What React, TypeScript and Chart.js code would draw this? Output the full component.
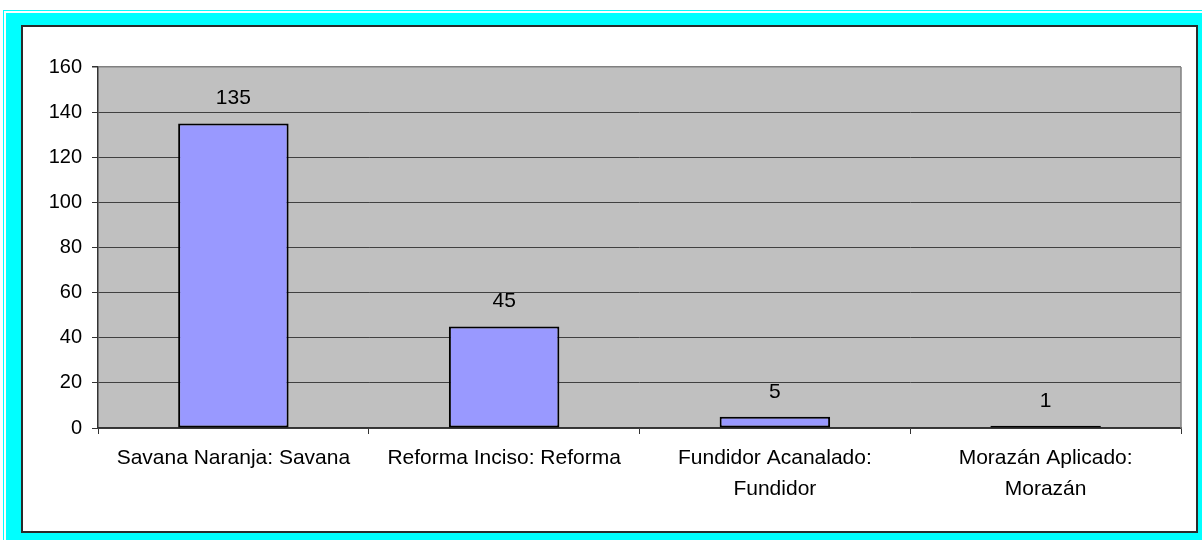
import React, { useEffect, useRef } from "react";
import { Chart, registerables } from "chart.js";

Chart.register(...registerables);

const categories: string[][] = [
  ["Savana Naranja: Savana"],
  ["Reforma Inciso: Reforma"],
  ["Fundidor Acanalado:", "Fundidor"],
  ["Morazán Aplicado:", "Morazán"],
];
const values: number[] = [135, 45, 5, 1];
const yMin = 0;
const yMax = 160;
const yStep = 20;

const FONT = '"Liberation Sans", Arial, sans-serif';

const plotBg = {
  id: "plotBg",
  beforeDraw(chart: any) {
    const { ctx, chartArea } = chart;
    ctx.save();
    ctx.fillStyle = "#C0C0C0";
    ctx.fillRect(chartArea.left, chartArea.top, chartArea.right - chartArea.left, chartArea.bottom - chartArea.top);
    ctx.restore();
  },
  afterDatasetsDraw(chart: any) {
    const { ctx, chartArea } = chart;
    ctx.save();
    ctx.strokeStyle = "#808080";
    ctx.lineWidth = 1.5;
    ctx.beginPath();
    ctx.moveTo(chartArea.right, chartArea.top);
    ctx.lineTo(chartArea.right, chartArea.bottom);
    ctx.stroke();
    ctx.restore();
  },
};

const valueLabels = {
  id: "valueLabels",
  afterDatasetsDraw(chart: any) {
    const { ctx } = chart;
    const meta = chart.getDatasetMeta(0);
    ctx.save();
    ctx.fillStyle = "#000";
    ctx.font = `21px ${FONT}`;
    ctx.textAlign = "center";
    ctx.textBaseline = "alphabetic";
    meta.data.forEach((el: any, i: number) => {
      ctx.fillText(String(values[i]), el.x, el.y - 19);
    });
    ctx.restore();
  },
};

export default function App() {
  const ref = useRef<HTMLCanvasElement | null>(null);

  useEffect(() => {
    if (!ref.current) return;
    const chart = new Chart(ref.current, {
      type: "bar",
      data: {
        labels: categories,
        datasets: [
          {
            data: values,
            backgroundColor: "#9999FF",
            borderColor: "#000000",
            borderWidth: 2,
            borderSkipped: false,
            categoryPercentage: 1,
            barPercentage: 0.408,
          },
        ],
      },
      options: {
        responsive: false,
        animation: false,
        devicePixelRatio: 1,
        layout: { padding: { top: 40, right: 16, left: 0, bottom: 0 } },
        plugins: {
          legend: { display: false },
          tooltip: { enabled: false },
          title: { display: false },
        },
        scales: {
          x: {
            afterFit: (scale: any) => {
              scale.height = 103;
            },
            grid: {
              offset: true,
              drawOnChartArea: false,
              drawTicks: true,
              tickLength: 6,
              tickColor: "#333",
            },
            border: { color: "#333", width: 1.5 },
            ticks: {
              autoSkip: false,
              maxRotation: 0,
              minRotation: 0,
              padding: 9,
              color: "#000",
              font: { family: FONT, size: 21, lineHeight: 1.46 },
            },
          },
          y: {
            min: yMin,
            max: yMax,
            afterFit: (scale: any) => {
              scale.width = 75;
            },
            grid: {
              color: (c: any) => (c.tick && c.tick.value === yMax ? "#808080" : "#404040"),
              lineWidth: (c: any) => (c.tick && c.tick.value === yMax ? 1.5 : 1),
              tickLength: 6,
              tickColor: "#333",
            },
            border: { color: "#333", width: 1.5 },
            ticks: {
              stepSize: yStep,
              padding: 10,
              color: "#000",
              font: { family: FONT, size: 20 },
            },
          },
        },
      },
      plugins: [plotBg, valueLabels],
    });
    return () => chart.destroy();
  }, []);

  return (
    <div
      style={{
        position: "fixed",
        left: 0,
        top: 0,
        width: 1202,
        height: 540,
        background: "#fff",
        overflow: "hidden",
      }}
    >
      <div
        style={{
          position: "absolute",
          left: 3,
          top: 10,
          width: 1400,
          height: 800,
          border: "1.5px solid #00FFFF",
        }}
      />
      <div
        style={{
          position: "absolute",
          left: 6,
          top: 13,
          width: 1400,
          height: 800,
          background: "#00FFFF",
        }}
      />
      <div
        style={{
          position: "absolute",
          left: 21,
          top: 25,
          width: 1177,
          height: 508,
          boxSizing: "border-box",
          border: "2px solid #2a2a2a",
          background: "#fff",
        }}
      />
      <canvas
        ref={ref}
        width={1174}
        height={504}
        style={{ position: "absolute", left: 23, top: 27, width: 1174, height: 504 }}
      />
    </div>
  );
}
